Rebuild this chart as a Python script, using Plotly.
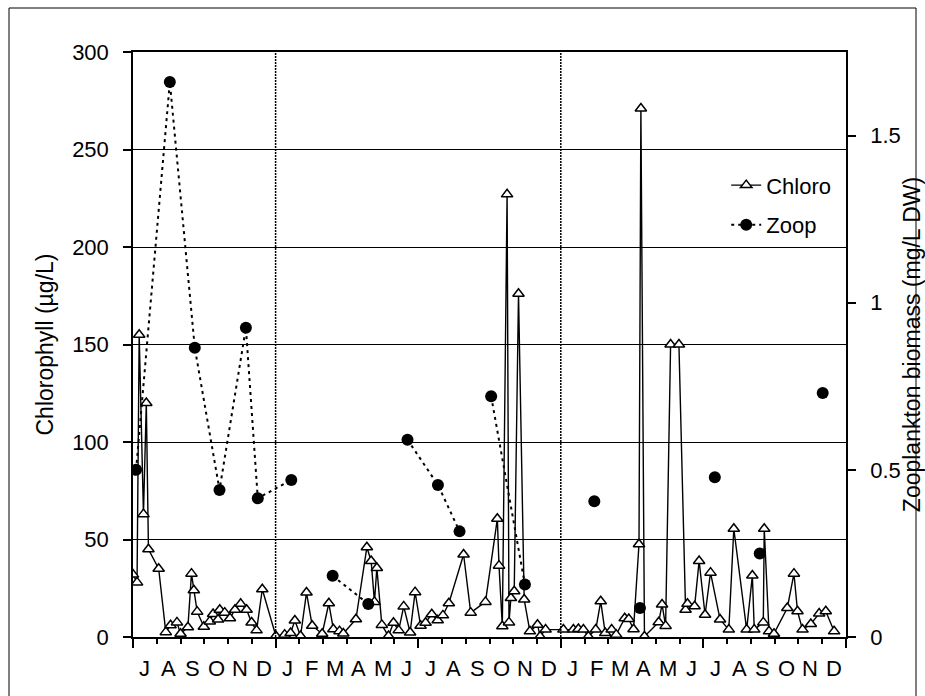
import plotly.graph_objects as go

# x positions: months elapsed since 1 July of year 1 (0..30 = Jul yr1 .. end Dec yr3)
chl_month = [0.00, 0.17, 0.26, 0.44, 0.56, 0.65, 1.08, 1.38, 1.58, 1.85, 2.00, 2.31, 2.46, 2.56, 2.70,
             2.98, 3.23, 3.37, 3.58, 3.65, 3.86, 4.08, 4.29, 4.53, 4.78, 4.99, 5.20, 5.44, 6.01,
             6.38, 6.63, 6.81, 7.05, 7.30, 7.54, 7.96, 8.24, 8.43, 8.69, 8.85, 9.38, 9.84, 10.02, 10.16,
             10.26, 10.47, 10.75, 10.96, 11.18, 11.39, 11.66, 11.87, 12.10, 12.31, 12.57, 12.82, 13.04,
             13.29, 13.91, 14.21, 14.83, 15.33, 15.40, 15.54, 15.74, 15.82, 15.90, 16.04, 16.22, 16.46,
             16.70, 17.02, 17.13, 17.36,
             18.11, 18.53, 18.74, 18.95, 19.16, 19.47, 19.68, 19.87, 20.14, 20.33, 20.69, 20.86, 21.06,
             21.29, 21.37, 21.52, 22.12, 22.26, 22.41, 22.62, 22.97, 23.25, 23.33, 23.63, 23.82, 24.07,
             24.30, 24.70, 25.07, 25.28, 25.82, 26.06, 26.14, 26.52, 26.56, 26.76, 26.97, 27.53, 27.81,
             27.96, 28.17, 28.52, 28.87, 29.15, 29.50]
chl_value = [32, 28, 155, 63, 120, 45, 35, 2.5, 6, 7.5, 1.7, 5, 32.5, 24, 13,
             5.3, 8, 11.8, 9, 14, 12.5, 9.6, 14, 17, 14, 7.4, 3.4, 24.5, 0.5,
             1.2, 2, 8.5, 0.5, 22.8, 5.8, 1.7, 17.3, 4, 3, 1.8, 9.1, 46, 39, 18,
             35.4, 6.2, 0.5, 7.3, 3.4, 15.7, 2.3, 23, 5.8, 7.3, 11.7, 8.6, 11.1,
             17.3, 42.3, 12.5, 18, 60.6, 36.6, 5.5, 227, 7.5, 20, 23.5, 176, 19.2,
             2.9, 6.3, 0.3, 3.8,
             3.8, 3.8, 4.1, 3.8, 0.3, 3.8, 18.3, 2, 3.8, 1.2, 9.6, 9.2, 4,
             47.6, 271, 0.3, 7.6, 16.7, 5.7, 150, 150, 14, 17, 15.8, 39, 11.4,
             33, 9, 3.8, 55.5, 3.8, 31.5, 3.8, 7.5, 55.5, 2.9, 1.7, 14.9, 32.5,
             13.2, 3.8, 6.7, 12, 13.2, 2.9]

# zooplankton samples; runs of consecutive samples are joined by the dotted line
zoop_month = [0.13, 1.55, 2.60, 3.64, 4.75, 5.25, 6.66,
              8.40, 9.90,
              11.55, 12.83, 13.74,
              15.07, 16.49,
              19.41, 21.33, 24.48, 26.37, 29.02]
zoop_value = [0.50, 1.66, 0.865, 0.44, 0.925, 0.415, 0.47,
              0.183, 0.099,
              0.59, 0.455, 0.316,
              0.72, 0.157,
              0.406, 0.087, 0.478, 0.25, 0.73]
zoop_run = [1, 1, 1, 1, 1, 1, 1,
            2, 2,
            3, 3, 3,
            4, 4,
            5, 6, 7, 8, 9]

month_labels = ["J", "A", "S", "O", "N", "D",
                "J", "F", "M", "A", "M", "J", "J", "A", "S", "O", "N", "D",
                "J", "F", "M", "A", "M", "J", "J", "A", "S", "O", "N", "D"]
year_breaks = [6, 18]

zx, zy = [], []
for i, (m, v, r) in enumerate(zip(zoop_month, zoop_value, zoop_run)):
    if i > 0 and r != zoop_run[i - 1]:
        zx.append(None)
        zy.append(None)
    zx.append(m)
    zy.append(v)

FONT = "Liberation Sans, Arial, sans-serif"
FS = 22
FT = 23

fig = go.Figure()
fig.add_trace(go.Scatter(
    x=chl_month, y=chl_value, name="Chloro", mode="lines+markers",
    line=dict(color="black", width=1.4),
    marker=dict(symbol="triangle-up", size=10, color="white",
                line=dict(color="black", width=1.5)),
    legendgroup="a", yaxis="y"))
fig.add_trace(go.Scatter(
    x=zx, y=zy, name="Zoop", mode="lines+markers", connectgaps=False,
    line=dict(color="black", width=2, dash="3px,4px"),
    marker=dict(symbol="circle", size=12, color="black"),
    legendgroup="b", yaxis="y2"))

shapes = []
for b in year_breaks:
    shapes.append(dict(type="line", xref="x", yref="paper", x0=b, x1=b, y0=0, y1=1,
                       line=dict(color="black", width=1.5, dash="2px,1px")))
# chart frame
shapes.append(dict(type="rect", xref="paper", yref="paper",
                   x0=(9 - 133) / 713, x1=(916 - 133) / 713,
                   y0=(637 - 705) / 585, y1=(637 - 8) / 585,
                   line=dict(color="black", width=1), layer="below"))

annotations = []
for i, lab in enumerate(month_labels):
    annotations.append(dict(x=i + 0.5, xref="x", y=(637 - 668) / 585, yref="paper",
                            text=lab, showarrow=False, xanchor="center", yanchor="middle",
                            font=dict(family=FONT, size=FS, color="black")))

fig.update_layout(
    width=925, height=696,
    margin=dict(l=133, r=79, t=52, b=59),
    paper_bgcolor="white", plot_bgcolor="white",
    font=dict(family=FONT, size=FS, color="black"),
    shapes=shapes, annotations=annotations,
    showlegend=True,
    legend=dict(x=0.832, y=0.808, xanchor="left", yanchor="top",
                bgcolor="rgba(0,0,0,0)", font=dict(family=FONT, size=FS),
                traceorder="grouped", tracegroupgap=8),
    xaxis=dict(range=[0, 30], tickmode="linear", tick0=0, dtick=6,
               ticks="outside", ticklen=9, tickwidth=1.5, tickcolor="black",
               showticklabels=False, showgrid=False, zeroline=False,
               showline=True, linecolor="black", linewidth=1.5, mirror=True,
               minor=dict(dtick=1, tick0=0, ticks="outside", ticklen=5,
                          tickwidth=1.5, tickcolor="black", showgrid=False),
               automargin=False),
    yaxis=dict(range=[0, 300], tickmode="linear", tick0=0, dtick=50,
               ticks="outside", ticklen=8, tickwidth=1.5, tickcolor="black",
               ticklabelstandoff=10,
               showgrid=True, gridcolor="black", gridwidth=1, zeroline=False,
               showline=True, linecolor="black", linewidth=1.5,
               title=dict(text="Chlorophyll (µg/L)", standoff=12,
                          font=dict(family=FONT, size=FT)),
               automargin=False),
    yaxis2=dict(overlaying="y", side="right", anchor="x", range=[0, 1.75],
                tickmode="array", tickvals=[0, 0.5, 1, 1.5], ticktext=["0", "0.5", "1", "1.5"],
                ticks="outside", ticklen=8, tickwidth=1.5, tickcolor="black",
                ticklabelstandoff=10,
                showgrid=False, zeroline=False,
                showline=True, linecolor="black", linewidth=1.5,
                title=dict(text="Zooplankton biomass (mg/L DW)", standoff=0,
                           font=dict(family=FONT, size=FT)),
                automargin=False),
    yaxis3=dict(overlaying="y", side="right", anchor="x", range=[0, 1.75],
                tickmode="array", tickvals=[0.5, 1, 1.5],
                ticks="inside", ticklen=9, tickwidth=1.5, tickcolor="black",
                showticklabels=False, showgrid=False, zeroline=False, showline=False,
                automargin=False),
)

fig.write_html("out.html", config={"displayModeBar": False},
               post_script="document.body.style.margin='0px';")
